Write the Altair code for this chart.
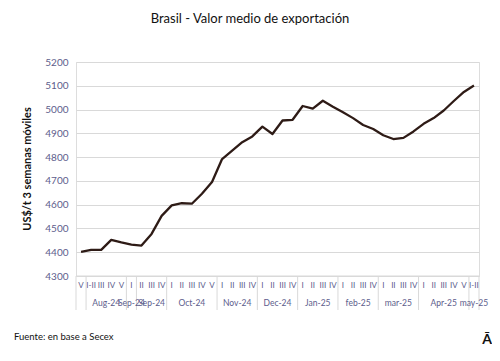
import altair as alt
import pandas as pd

# ---- data ----
group_labels = ["", "Aug-24", "Sep-24", "Sep-24", "Oct-24", "Nov-24", "Dec-24",
                "Jan-25", "feb-25", "mar-25", "Apr-25", "may-25"]
group_weeks = [
    ["V"],
    ["I-II", "III", "IV", "V"],
    ["I"],
    ["II", "III", "IV"],
    ["I", "II", "III", "IV", "V"],
    ["I", "II", "III", "IV"],
    ["I", "II", "III", "IV"],
    ["I", "II", "III", "IV"],
    ["I", "II", "III", "IV"],
    ["I", "II", "III", "IV"],
    ["I", "II", "III", "IV", "V"],
    ["I-II"],
]
values = [4401, 4410, 4410, 4452, 4441, 4432, 4428, 4477, 4553, 4597,
          4606, 4604, 4646, 4695, 4792, 4827, 4863, 4887, 4928, 4897,
          4954, 4957, 5015, 5004, 5037, 5012, 4989, 4964, 4935, 4918,
          4892, 4876, 4881, 4908, 4940, 4964, 4996, 5036, 5074, 5101]
y_ticks = [4300, 4400, 4500, 4600, 4700, 4800, 4900, 5000, 5100, 5200]

title_text = "Brasil - Valor medio de exportación"
y_title = "US$/t 3 semanas móviles"
source_text = "Fuente: en base a Secex"
logo_text = "Ā"

# ---- tables ----
weeks = [w for g in group_weeks for w in g]
points = pd.DataFrame({"idx": list(range(len(values))), "week": weeks, "value": values})

g_rows = []
b_rows = [{"pos": -0.5}]
start = 0
for lab, wk in zip(group_labels, group_weeks):
    n = len(wk)
    g_rows.append({"label": lab, "center": start + (n - 1) / 2})
    start += n
    b_rows.append({"pos": start - 0.5})
groups = pd.DataFrame(g_rows)
bounds = pd.DataFrame(b_rows)

W, H = 403, 214
FONT = "Lato"
LAB_COL = "#5d5d8c"
GRID = "#d9d9d9"

xscale = alt.Scale(domain=[-0.5, len(values) - 0.5], nice=False, zero=False)
yscale = alt.Scale(domain=[4300, 5200], nice=False, zero=False)

line = alt.Chart(points).mark_line(color="#2e1b16", strokeWidth=2.3, strokeJoin="round").encode(
    x=alt.X("idx:Q", scale=xscale, axis=None),
    y=alt.Y("value:Q", scale=yscale, axis=alt.Axis(
        values=y_ticks, format="d", title=None, domain=False, ticks=False, grid=True,
        gridColor=GRID, gridWidth=1, labelColor=LAB_COL, labelFontSize=10,
        labelFont=FONT, labelPadding=8)),
)

top_rule = alt.Chart(pd.DataFrame({"a": [0]})).mark_rule(color=GRID, strokeWidth=1).encode(
    x=alt.value(0), x2=alt.value(W), y=alt.value(H))

seps = alt.Chart(bounds).mark_rule(color=GRID, strokeWidth=1).encode(
    x=alt.X("pos:Q", scale=xscale), y=alt.value(H), y2=alt.value(H + 34))

week_text = alt.Chart(points).mark_text(fontSize=8, font=FONT, color=LAB_COL, baseline="middle").encode(
    x=alt.X("idx:Q", scale=xscale), y=alt.value(H + 10), text="week:N")

month_text = alt.Chart(groups).mark_text(fontSize=8.5, font=FONT, color=LAB_COL, baseline="middle").encode(
    x=alt.X("center:Q", scale=xscale), y=alt.value(H + 27), text="label:N")

one = pd.DataFrame({"a": [0]})
title = alt.Chart(one).mark_text(fontSize=13, font=FONT, color="#111111", baseline="middle").encode(
    x=alt.value(174), y=alt.value(-43), text=alt.value(title_text))
ytitle = alt.Chart(one).mark_text(fontSize=11, font=FONT, fontWeight="bold", color="#111111",
                                  angle=270, baseline="middle").encode(
    x=alt.value(-48), y=alt.value(H / 2), text=alt.value(y_title))
source = alt.Chart(one).mark_text(fontSize=9.5, font=FONT, color="#111111", align="left", baseline="middle").encode(
    x=alt.value(-62), y=alt.value(275), text=alt.value(source_text))
logo = alt.Chart(one).mark_text(fontSize=14, font=FONT, fontWeight="bold", color="#111111", baseline="middle").encode(
    x=alt.value(411), y=alt.value(278), text=alt.value(logo_text))

chart = alt.layer(line, top_rule, seps, week_text, month_text, title, ytitle, source, logo).properties(
    width=W, height=H,
    autosize=alt.AutoSizeParams(type="none"),
    padding={"left": 68, "top": 54, "right": 13, "bottom": 77},
).configure_view(stroke=None).configure(background="white")

chart.save("out.html", embed_options={"renderer": "svg", "actions": False})
